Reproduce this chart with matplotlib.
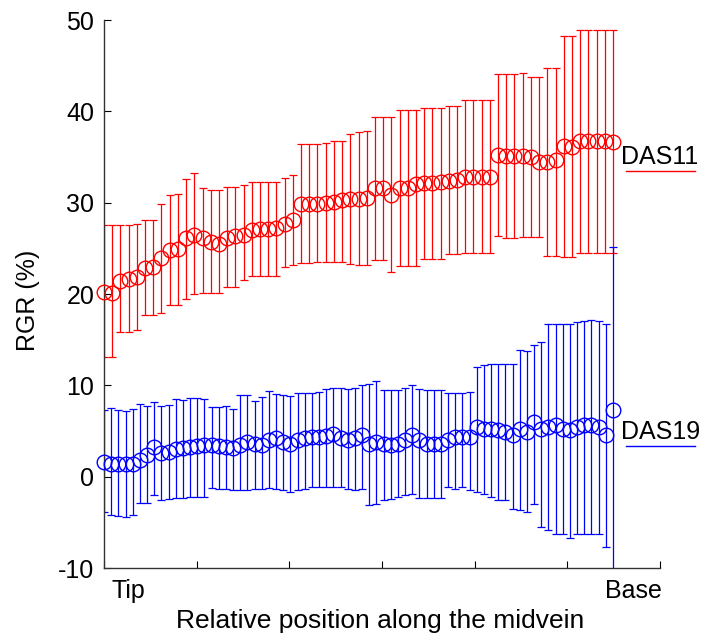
import matplotlib
matplotlib.use('Agg')
import matplotlib.pyplot as plt
from matplotlib.lines import Line2D
import numpy as np

plt.rcParams['font.family'] = ['Liberation Sans', 'DejaVu Sans']
plt.rcParams['axes.unicode_minus'] = False

# DAS11 (red): mean, upper and lower error bar ends, tip -> base
das11_mean = [20.2, 20.1, 21.4, 21.6, 21.9, 22.8, 23.0, 23.9, 24.8, 24.9,
              26.1, 26.5, 26.1, 25.7, 25.5, 26.1, 26.3, 26.5, 27.0, 27.1,
              27.1, 27.2, 27.7, 28.1, 29.9, 29.9, 29.9, 30.0, 30.1, 30.3,
              30.4, 30.4, 30.5, 31.6, 31.6, 30.8, 31.6, 31.6, 32.0, 32.1,
              32.2, 32.3, 32.4, 32.5, 32.8, 32.8, 32.8, 32.8, 35.2, 35.1,
              35.1, 35.1, 35.0, 34.5, 34.4, 34.7, 36.2, 36.1, 36.7, 36.7,
              36.7, 36.7, 36.6]
das11_high = [27.5, 27.5, 27.5, 27.6, 27.7, 28.1, 28.1, 29.9, 30.8, 31.0,
              32.6, 33.2, 31.6, 31.4, 31.4, 31.7, 31.7, 31.9, 32.3, 32.3,
              32.3, 32.3, 32.7, 33.0, 36.4, 36.4, 36.4, 36.5, 36.7, 36.8,
              37.5, 37.7, 37.8, 39.4, 39.4, 39.4, 40.1, 40.1, 40.1, 40.4,
              40.4, 40.4, 40.6, 40.6, 41.2, 41.2, 41.2, 41.2, 44.1, 44.1,
              44.1, 44.2, 43.8, 43.8, 44.7, 44.7, 48.2, 48.2, 48.9, 48.9,
              48.9, 48.9, 48.9]
das11_low = [13.1, 13.1, 15.8, 15.8, 16.1, 17.7, 17.7, 17.9, 18.8, 18.8,
             19.5, 20.0, 20.1, 20.1, 20.1, 20.8, 20.8, 21.5, 22.0, 22.0,
             22.0, 22.0, 23.0, 23.2, 23.4, 23.4, 23.5, 23.5, 23.5, 23.5,
             23.3, 23.2, 23.2, 23.7, 23.7, 22.4, 23.1, 23.1, 23.1, 23.8,
             23.8, 23.8, 24.4, 24.4, 24.5, 24.5, 24.5, 24.5, 26.3, 26.1,
             26.1, 26.2, 26.2, 26.2, 24.2, 24.2, 24.0, 24.0, 24.5, 24.5,
             24.5, 24.5, 24.5]

# DAS19 (blue)
das19_mean = [1.62, 1.44, 1.44, 1.37, 1.44, 1.81, 2.36, 3.27, 2.54, 2.72,
              2.98, 3.09, 3.27, 3.34, 3.45, 3.45, 3.34, 3.27, 3.09, 3.45,
              3.82, 3.63, 3.45, 4.00, 4.18, 3.82, 3.63, 4.00, 4.18, 4.29,
              4.36, 4.44, 4.66, 4.18, 4.00, 4.18, 4.54, 3.63, 3.81, 3.63,
              3.45, 3.63, 4.00, 4.54, 4.00, 3.63, 3.63, 3.63, 4.00, 4.36,
              4.36, 4.36, 5.46, 5.27, 5.27, 5.09, 4.91, 4.54, 5.27, 4.91,
              6.00, 5.27, 5.46, 5.64, 5.27, 5.09, 5.46, 5.64, 5.64, 5.46,
              4.54, 7.35]
das19_high = [7.28, 7.47, 7.28, 7.17, 7.36, 7.94, 7.72, 8.20, 7.72, 7.83,
              8.45, 8.38, 8.56, 8.56, 8.49, 7.65, 7.58, 7.72, 7.36, 8.93,
              8.93, 8.31, 8.67, 9.40, 9.04, 8.93, 8.82, 9.11, 9.11, 9.18,
              9.29, 9.55, 9.66, 9.66, 9.55, 9.66, 10.02, 10.20, 10.46, 9.47,
              9.47, 9.47, 9.76, 10.02, 9.55, 9.47, 9.47, 9.47, 9.11, 9.18,
              9.18, 9.29, 12.03, 12.21, 12.32, 12.39, 12.39, 12.32, 13.85, 13.78,
              14.40, 14.77, 16.77, 16.70, 16.70, 16.70, 16.96, 17.07, 17.14, 17.07,
              16.70, 25.2]
das19_low = [-3.85, -4.22, -4.33, -4.40, -4.22, -2.87, -2.87, -2.03, -2.57, -2.50,
             -2.39, -2.39, -2.28, -2.28, -2.28, -1.19, -1.30, -1.40, -1.48, -1.48,
             -1.48, -1.40, -1.30, -1.19, -1.30, -1.48, -1.66, -1.48, -1.30, -1.11,
             -1.11, -1.11, -1.11, -1.12, -1.30, -1.48, -1.30, -3.12, -2.94, -2.58,
             -2.50, -2.21, -2.03, -1.85, -2.39, -2.39, -2.39, -2.39, -1.12, -1.30,
             -1.12, -1.48, -1.66, -1.85, -2.21, -2.58, -2.58, -3.49, -3.67, -3.85,
             -2.94, -5.50, -5.86, -6.23, -6.23, -6.77, -6.23, -6.23, -6.23, -6.23,
             -7.69, -11.0]

series = [
    ('DAS11', das11_mean, das11_high, das11_low, '#ff0000', 157),
    ('DAS19', das19_mean, das19_high, das19_low, '#0000ff', 432),
]

W, H = 708, 640
fig = plt.figure(figsize=(W / 100, H / 100), dpi=100)
ax = fig.add_axes([104 / W, 1 - 568 / H, (660 - 104) / W, (568 - 20) / H])

xmax = (660 - 104) / (613 - 104)  # data spans tip (0) to base (1)

for name, m, hi, lo, col, ty in series:
    m = np.array(m)
    hi = np.array(hi)
    lo = np.array(lo)
    x = np.linspace(0, 1, len(m))
    ax.errorbar(x, m, yerr=[m - lo, hi - m], fmt='none', ecolor=col,
                elinewidth=0.9, capsize=2.6, capthick=0.9, zorder=2)
    ax.plot(x, m, 'o', mfc='none', mec=col, mew=1.0, ms=10.5,
            clip_on=False, zorder=3)
    # label with a short line underneath, right of the axes
    fig.text(621 / W, 1 - ty / H, name, fontsize=18, va='center', ha='left')
    fig.add_artist(Line2D([626 / W, 695 / W], [1 - (ty + 14) / H] * 2,
                          color=col, lw=1.0))

ax.set_xlim(0, xmax)
ax.set_ylim(-10, 50)
ax.set_xticks(np.linspace(0, xmax, 7))
ax.set_xticklabels([])
ax.set_yticks(np.arange(-10, 51, 10))
ax.tick_params(direction='in', length=5, width=0.8, labelsize=18, pad=7)
ax.spines['top'].set_visible(False)
ax.spines['right'].set_visible(False)
for s in ('left', 'bottom'):
    ax.spines[s].set_linewidth(1.0)
    ax.spines[s].set_color('#333333')

fig.text(128 / W, 1 - 591 / H, 'Tip', fontsize=18, ha='center', va='center')
fig.text(633 / W, 1 - 591 / H, 'Base', fontsize=18, ha='center', va='center')
fig.text(380 / W, 1 - 621 / H, 'Relative position along the midvein',
         fontsize=19, ha='center', va='center')
fig.text(28 / W, 1 - 300 / H, 'RGR (%)', fontsize=18, rotation=90,
         ha='center', va='center')

fig.savefig('out.png', dpi=100)
